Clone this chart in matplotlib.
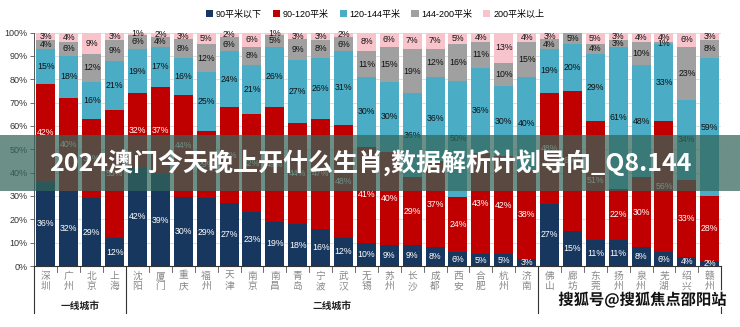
import numpy as np
import matplotlib
matplotlib.use('Agg')
import matplotlib.pyplot as plt
import matplotlib.patheffects as pe

plt.rcParams['font.family'] = ['Liberation Sans', 'Noto Sans CJK SC', 'DejaVu Sans']

cities = ['深圳', '广州', '北京', '上海',
          '沈阳', '厦门', '重庆', '福州', '天津', '南京', '南昌', '青岛', '宁波',
          '武汉', '无锡', '苏州', '长沙', '成都', '西安', '合肥', '杭州', '济南',
          '佛山', '廊坊', '东莞', '扬州', '泉州', '芜湖', '绍兴', '赣州']
series_names = ['90平米以下', '90-120平米', '120-144平米', '144-200平米', '200平米以上']
below90 = [36, 32, 29, 12, 42, 39, 30, 29, 27, 23, 19, 18, 16, 12, 10, 9, 9, 8, 6, 5, 5, 3,
           27, 15, 11, 11, 8, 6, 4, 2]
s90_120 = [42, 40, 34, 55, 32, 37, 44, 29, 41, 42, 49, 44, 47, 48, 41, 40, 29, 37, 24, 43, 42, 38,
           48, 60, 51, 22, 30, 56, 33, 28]
s120_144 = [15, 18, 16, 21, 19, 17, 16, 25, 24, 21, 26, 27, 26, 31, 30, 30, 36, 36, 50, 36, 30, 40,
            19, 20, 29, 61, 48, 33, 34, 59]
s144_200 = [4, 6, 12, 9, 6, 4, 8, 12, 6, 8, 5, 9, 8, 6, 11, 15, 19, 12, 16, 11, 10, 15,
            4, 5, 4, 3, 10, 1, 23, 8]
above200 = [3, 4, 9, 3, 1, 2, 3, 5, 2, 6, 1, 3, 3, 2, 8, 6, 7, 7, 5, 4, 13, 4,
            3, 0, 5, 3, 4, 4, 6, 3]
groups = [('一线城市', 0, 3), ('二线城市', 4, 21)]
group_edges = [-0.5, 3.5, 21.5, 29.5]
banner = '2024澳门今天晚上开什么生肖,数据解析计划导向_Q8.144'
watermark = '搜狐号@搜狐焦点邵阳站'

colors = ['#17375E', '#C00000', '#4BACC6', '#A0A0A0', '#F8C4CC']
label_colors = ['white', 'white', '#111111', '#111111', '#111111']

data = np.array([below90, s90_120, s120_144, s144_200, above200], dtype=float)
pct = data / data.sum(axis=0) * 100
x = np.arange(len(cities))

fig = plt.figure(figsize=(7.4, 3.27), dpi=100)
ax = fig.add_axes([0.0466, 0.1865, 0.928, 0.714])

ax.set_axisbelow(True)
ax.yaxis.grid(True, color='#d9d9d9', linewidth=0.6)
bottom = np.zeros(len(cities))
for k in range(5):
    ax.bar(x, pct[k], 0.83, bottom=bottom, color=colors[k], label=series_names[k],
           edgecolor='none')
    for i in range(len(cities)):
        if data[k, i] > 0:
            ax.text(x[i], bottom[i] + pct[k, i] / 2, '%d%%' % data[k, i], ha='center',
                    va='center', fontsize=6.3, color=label_colors[k])
    bottom += pct[k]

ax.set_xlim(-0.5, len(cities) - 0.5)
ax.set_ylim(0, 100)
ax.set_yticks(np.arange(0, 101, 10))
ax.set_yticklabels(['%d%%' % v for v in range(0, 101, 10)], fontsize=6.5, color='#333333')
ax.tick_params(axis='y', length=3, width=0.6, color='#555555', pad=2)
ax.set_xticks([])
for s in ['top', 'right']:
    ax.spines[s].set_visible(False)
ax.spines['left'].set_color('#555555')
ax.spines['left'].set_linewidth(0.7)
ax.spines['bottom'].set_color('#333333')
ax.spines['bottom'].set_linewidth(0.8)

# city names, written vertically
for i, c in enumerate(cities):
    ax.text(x[i], -2, '\n'.join(c), ha='center', va='top', fontsize=7, color='#888888',
            linespacing=1.05, clip_on=False)

# category ticks and group separators
for b in np.arange(-0.5, len(cities), 1.0):
    ax.plot([b, b], [0, -2.5], color='#555555', lw=0.6, clip_on=False)
for b in group_edges:
    ax.plot([b, b], [0, -20], color='#333333', lw=0.8, clip_on=False)
for name, a, b in groups:
    ax.text((a + b) / 2, -17, name, ha='center', va='center', fontsize=7,
            fontweight='bold', color='#222222', clip_on=False)

fig.legend(loc='center', bbox_to_anchor=(0.507, 0.957), ncol=5, frameon=False,
           fontsize=6.5, handlelength=0.8, handleheight=0.8, handletextpad=0.3,
           columnspacing=1.2)

# overlay banner across the chart
fig.patches.append(plt.Rectangle((0, 1 - 191 / 327), 1, 56 / 327, transform=fig.transFigure,
                                 facecolor=(0.2, 0.4, 0.35), alpha=0.72, edgecolor='none',
                                 zorder=5))
fig.text(0.5, 1 - 163 / 327, banner, ha='center', va='center', fontsize=18,
         fontweight='bold', color='white', family=['Noto Sans CJK SC', 'DejaVu Sans'],
         zorder=6)

fig.text(0.868, 1 - 300 / 327, watermark, ha='center', va='center', fontsize=11,
         fontweight='bold', color='#111111', family=['Noto Sans CJK SC', 'DejaVu Sans'],
         path_effects=[pe.withStroke(linewidth=2, foreground='white')], zorder=6)

fig.savefig('out.png', dpi=100)
